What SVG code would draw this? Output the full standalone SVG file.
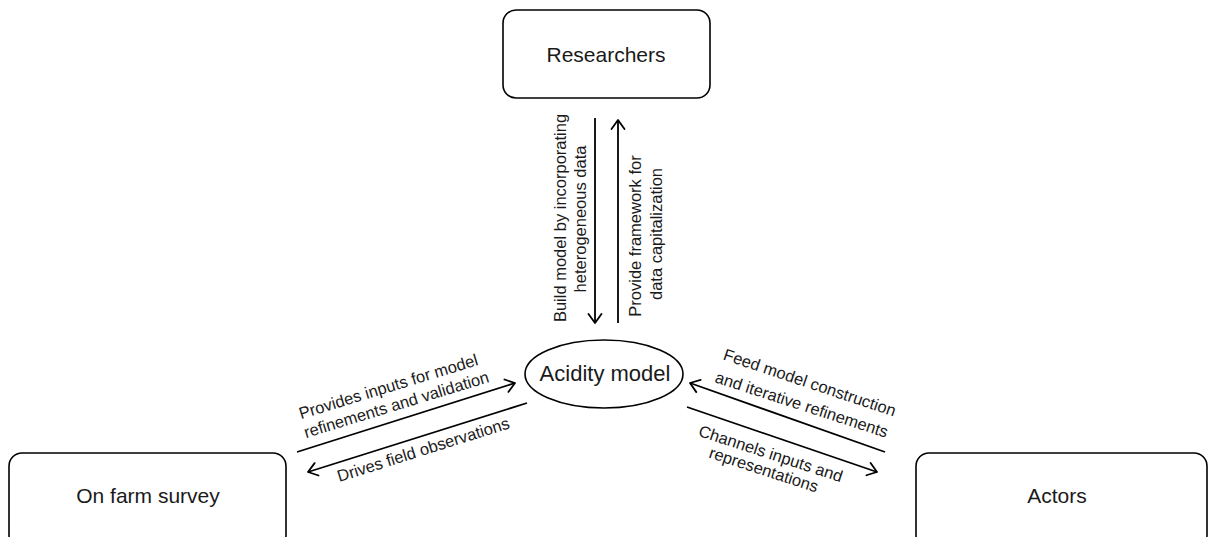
<svg xmlns="http://www.w3.org/2000/svg" width="1209" height="537" viewBox="0 0 1209 537">
<defs>
<style>
.box{fill:#fff;stroke:#000;stroke-width:1.6}
.nt{font-family:"Liberation Sans",Arial,sans-serif;font-size:21px;fill:#1a1a1a;text-anchor:middle}
.lb{font-family:"Liberation Sans",Arial,sans-serif;font-size:16.5px;fill:#1a1a1a;text-anchor:middle}
.cn{stroke:#000;stroke-width:1.8;fill:none;marker-end:url(#ah)}
</style>
<marker id="ah" viewBox="-11 -8 13 16" markerWidth="13" markerHeight="16" refX="0" refY="0" orient="auto" markerUnits="userSpaceOnUse">
<path d="M-9,-6.5 L0,0 L-9,6.5" fill="none" stroke="#000" stroke-width="1.8" stroke-linecap="round" stroke-linejoin="round"/>
</marker>
</defs>
<rect width="1209" height="537" fill="#fff"/>
<g id="researchers">
<rect class="box" x="503" y="10" width="207" height="88" rx="13"/>
<text class="nt" x="606" y="62">Researchers</text>
</g>
<g id="acidity-model">
<ellipse class="box" cx="604" cy="374" rx="79" ry="34"/>
<text class="nt" x="605" y="381" style="font-size:22px">Acidity model</text>
</g>
<g id="on-farm-survey">
<rect class="box" x="9" y="453" width="277" height="95" rx="13"/>
<text class="nt" x="148" y="503">On farm survey</text>
</g>
<g id="actors">
<rect class="box" x="916" y="453" width="291" height="95" rx="13"/>
<text class="nt" x="1057" y="503">Actors</text>
</g>
<g id="connectors">
<line class="cn" x1="595" y1="118" x2="595" y2="323"/>
<line class="cn" x1="618" y1="323" x2="618" y2="120"/>
<line class="cn" x1="297" y1="452" x2="515" y2="383"/>
<line class="cn" x1="527" y1="403" x2="308" y2="472"/>
<line class="cn" x1="885" y1="452" x2="690" y2="383"/>
<line class="cn" x1="687" y1="407" x2="877" y2="472"/>
</g>
<g id="labels">
<text class="lb" transform="translate(566,218) rotate(-90)">Build model by incorporating</text>
<text class="lb" transform="translate(586,219) rotate(-90)">heterogeneous data</text>
<text class="lb" transform="translate(641,236) rotate(-90)">Provide framework for</text>
<text class="lb" transform="translate(662,234) rotate(-90)">data capitalization</text>
<text class="lb" transform="translate(390,392) rotate(-17)">Provides inputs for model</text>
<text class="lb" transform="translate(398,410) rotate(-17)">refinements and validation</text>
<text class="lb" transform="translate(425,455) rotate(-17.5)">Drives field observations</text>
<text class="lb" transform="translate(808,388) rotate(18.5)">Feed model construction</text>
<text class="lb" transform="translate(800,410) rotate(18)">and iterative refinements</text>
<text class="lb" transform="translate(769,459) rotate(18)">Channels inputs and</text>
<text class="lb" transform="translate(762,475) rotate(18)">representations</text>
</g>
</svg>
